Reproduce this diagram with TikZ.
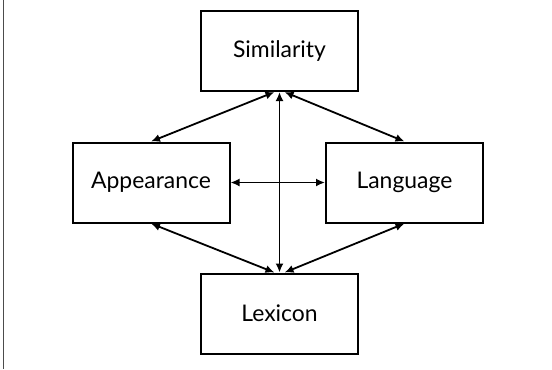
\documentclass[tikz,border=0pt]{standalone}
\usepackage{fontspec}
\setmainfont{Lato}
\usetikzlibrary{arrows.meta,positioning,calc}

\begin{document}
\begin{tikzpicture}[x=1bp,y=-1bp]
    % Define styles
    \tikzstyle{factor} = [rectangle, draw, line width=2bp, minimum width=157bp, minimum height=80bp, inner sep=0pt, font=\fontsize{23}{27}\selectfont]
    \tikzstyle{arrow} = [line width=1.8bp,{Latex[length=9bp,width=8bp]}-{Latex[length=9bp,width=8bp]}]

    \useasboundingbox (0,0) rectangle (552,369);
    \draw[line width=1.5bp, black!70] (3.3,0) -- (3.3,369);

    % Boxes
    \node[factor] (similarity) at (279.5,51) {Similarity};
    \node[factor] (appearance) at (151,182.5) {Appearance};
    \node[factor] (language) at (404.5,182.5) {Language};
    \node[factor] (lexicon) at (279.5,313.5) {Lexicon};

    % Arrows
    \draw[arrow] (similarity.263) -- (appearance.north);
    \draw[arrow] (similarity.277) -- (language.north);
    \draw[arrow] (similarity) -- (lexicon);
    \draw[arrow] (appearance) -- (language);
    \draw[arrow] (appearance.south) -- (lexicon.97);
    \draw[arrow] (language.south) -- (lexicon.83);

\end{tikzpicture}
\end{document}
